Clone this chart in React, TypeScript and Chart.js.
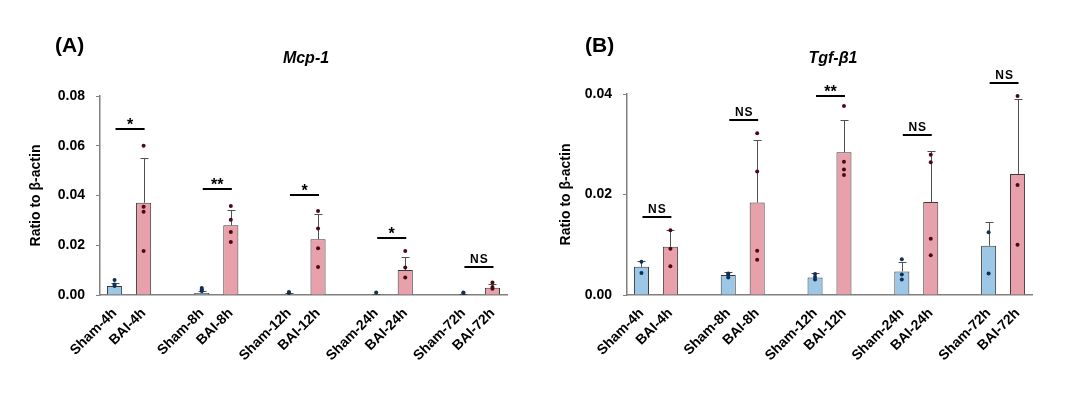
import React, { useEffect, useRef } from "react";
import { Chart, registerables } from "chart.js";
Chart.register(...registerables);

const FONT = "'Liberation Sans', Arial, sans-serif";

const timePoints = ["4h", "8h", "12h", "24h", "72h"];

// Panel A — Mcp-1
const mcpShamMean = [0.0036, 0.0008, 0.0004, 0.0003, 0.0003];
const mcpShamSD = [0.0012, 0.0009, 0.0004, 0.0003, 0.0003];
const mcpBaiMean = [0.0371, 0.028, 0.0224, 0.0101, 0.0029];
const mcpBaiSD = [0.0179, 0.006, 0.01, 0.0051, 0.0015];
const mcpShamDots = [
  [0.006, 0.0042, 0.0036],
  [0.0028, 0.0022, 0.0016],
  [0.0012, 0.0008],
  [0.001],
  [0.001, 0.0006],
];
const mcpBaiDots = [
  [0.06, 0.0355, 0.0335, 0.0177],
  [0.0358, 0.0303, 0.0253, 0.0213],
  [0.0338, 0.0267, 0.0188, 0.0113],
  [0.0177, 0.0111, 0.007],
  [0.005, 0.0032, 0.0025],
];
const mcpSigY = [0.0666, 0.0426, 0.0402, 0.0228, 0.0114];
const mcpSigLabel = ["*", "**", "*", "*", "NS"];

// Panel B — Tgf-β1
const tgfShamMean = [0.0056, 0.004, 0.0035, 0.0047, 0.0098];
const tgfShamSD = [0.0012, 0.0005, 0.0008, 0.0018, 0.0047];
const tgfBaiMean = [0.0096, 0.0184, 0.0284, 0.0185, 0.0241];
const tgfBaiSD = [0.0033, 0.0124, 0.0064, 0.0101, 0.0149];
const tgfShamDots = [
  [0.0066, 0.0044],
  [0.0043, 0.004, 0.0035],
  [0.0042, 0.0036, 0.0031],
  [0.0071, 0.0041, 0.0031],
  [0.0125, 0.0043],
];
const tgfBaiDots = [
  [0.0129, 0.0092, 0.0057],
  [0.0322, 0.0246, 0.0088, 0.007],
  [0.0376, 0.0265, 0.025, 0.0239],
  [0.0279, 0.0264, 0.0112, 0.0079],
  [0.0396, 0.0219, 0.01],
];
const tgfSigY = [0.0155, 0.0348, 0.0396, 0.0319, 0.0421];
const tgfSigLabel = ["NS", "NS", "**", "NS", "NS"];

const yTicksA = [0, 0.02, 0.04, 0.06, 0.08];
const yTicksB = [0, 0.02, 0.04];

const SHAM_FILL = "#9DC7E7";
const BAI_FILL = "#E8A0AA";
const SHAM_DOT = "#0F2F55";
const BAI_DOT = "#4A0A14";
const AXIS = "#808080";

type Panel = {
  letter: string;
  gene: string;
  shamMean: number[];
  shamSD: number[];
  baiMean: number[];
  baiSD: number[];
  shamDots: number[][];
  baiDots: number[][];
  sigY: number[];
  sigLabel: string[];
  yTicks: number[];
  layout: { top: number; right: number; yWidth: number; titlePad: number; letterX: number; geneX: number };
};

function buildLabels(): string[] {
  const labels: string[] = [];
  timePoints.forEach((t, i) => {
    labels.push("Sham-" + t, "BAI-" + t);
    if (i < timePoints.length - 1) labels.push(" ".repeat(i + 1));
  });
  return labels;
}

function makeChart(canvas: HTMLCanvasElement, p: Panel) {
  const labels = buildLabels();
  const barData: (number | null)[] = labels.map(() => null);
  const colors: string[] = labels.map(() => "rgba(0,0,0,0)");
  timePoints.forEach((t, i) => {
    barData[3 * i] = p.shamMean[i];
    barData[3 * i + 1] = p.baiMean[i];
    colors[3 * i] = SHAM_FILL;
    colors[3 * i + 1] = BAI_FILL;
  });
  const shamPts: { x: string; y: number }[] = [];
  const baiPts: { x: string; y: number }[] = [];
  timePoints.forEach((t, i) => {
    p.shamDots[i].forEach((v) => shamPts.push({ x: "Sham-" + t, y: v }));
    p.baiDots[i].forEach((v) => baiPts.push({ x: "BAI-" + t, y: v }));
  });
  const yMax = p.yTicks[p.yTicks.length - 1];

  const annot = {
    id: "annot" + p.letter,
    afterDatasetDraw(chart: any, args: any) {
      if (args.index !== 0) return;
      const ctx = chart.ctx;
      const xs = chart.scales.x;
      const ys = chart.scales.y;
      ctx.save();
      timePoints.forEach((t, i) => {
        const pairs: [number, number, number][] = [
          [3 * i, p.shamMean[i], p.shamSD[i]],
          [3 * i + 1, p.baiMean[i], p.baiSD[i]],
        ];
        pairs.forEach(([idx, m, sd]) => {
          const x = Math.round(xs.getPixelForValue(idx)) + 0.5;
          const y0 = ys.getPixelForValue(m);
          const y1 = Math.round(ys.getPixelForValue(m + sd)) + 0.5;
          ctx.strokeStyle = "#505050";
          ctx.lineWidth = 1;
          ctx.beginPath();
          ctx.moveTo(x, y0);
          ctx.lineTo(x, y1);
          ctx.moveTo(x - 4, y1);
          ctx.lineTo(x + 4, y1);
          ctx.stroke();
        });
      });
      ctx.restore();
    },
    afterDraw(chart: any) {
      const ctx = chart.ctx;
      const xs = chart.scales.x;
      const ys = chart.scales.y;
      ctx.save();
      ctx.fillStyle = "#000";
      ctx.strokeStyle = "#000";
      timePoints.forEach((t, i) => {
        const x1 = xs.getPixelForValue(3 * i);
        const x2 = xs.getPixelForValue(3 * i + 1);
        const y = Math.round(ys.getPixelForValue(p.sigY[i]));
        ctx.lineWidth = 2;
        ctx.beginPath();
        ctx.moveTo(x1 + 1, y);
        ctx.lineTo(x2 + 1, y);
        ctx.stroke();
        const lab = p.sigLabel[i];
        ctx.textAlign = "center";
        ctx.textBaseline = "alphabetic";
        if (lab === "NS") {
          ctx.font = `bold 12px ${FONT}`;
          ctx.fillText("N\u200AS", (x1 + x2) / 2 + 1, y - 4);
        } else {
          ctx.font = `bold 16px ${FONT}`;
          ctx.fillText(lab, (x1 + x2) / 2 + 1, y + 1);
        }
      });
      ctx.textAlign = "left";
      ctx.font = `bold 21px ${FONT}`;
      ctx.fillText(p.letter, p.layout.letterX, 52);
      ctx.textAlign = "center";
      ctx.font = `italic bold 16px ${FONT}`;
      ctx.fillText(p.gene, p.layout.geneX, 63);
      ctx.restore();
    },
  };

  return new Chart(canvas, {
    type: "bar",
    data: {
      labels,
      datasets: [
        {
          type: "bar",
          data: barData,
          backgroundColor: colors,
          borderColor: "#3A3A3A",
          borderWidth: 1,
          barPercentage: 0.52,
          categoryPercentage: 1,
          order: 2,
        } as any,
        {
          type: "scatter",
          data: shamPts,
          pointRadius: 2,
          pointBackgroundColor: SHAM_DOT,
          pointBorderWidth: 0,
          order: 1,
        } as any,
        {
          type: "scatter",
          data: baiPts,
          pointRadius: 2,
          pointBackgroundColor: BAI_DOT,
          pointBorderWidth: 0,
          order: 1,
        } as any,
      ],
    },
    options: {
      responsive: false,
      animation: false,
      devicePixelRatio: 1,
      layout: { padding: { top: p.layout.top, right: p.layout.right, left: 0, bottom: 0 } },
      plugins: { legend: { display: false }, tooltip: { enabled: false }, title: { display: false } },
      scales: {
        x: {
          type: "category",
          offset: true,
          grid: { display: false },
          border: { display: true, color: AXIS, width: 1.5 },
          ticks: {
            autoSkip: false,
            maxRotation: 45,
            minRotation: 45,
            color: "#000",
            padding: 2,
            font: { family: FONT, size: 14, weight: "bold" },
          },
          afterFit: (s: any) => {
            s.height = 399 - 295;
          },
        },
        y: {
          type: "linear",
          min: 0,
          max: yMax,
          afterBuildTicks: (s: any) => {
            s.ticks = p.yTicks.map((v) => ({ value: v }));
          },
          ticks: {
            color: "#000",
            padding: 11,
            font: { family: FONT, size: 14, weight: "bold" },
            callback: (v: any) => Number(v).toFixed(2),
          },
          grid: { drawOnChartArea: false, drawTicks: true, tickLength: 4, color: AXIS, lineWidth: 1 },
          border: { display: true, color: AXIS, width: 1.5 },
          title: {
            display: true,
            text: "Ratio to β-actin",
            color: "#000",
            font: { family: FONT, size: 14, weight: "bold" },
            padding: { top: p.layout.titlePad, bottom: 0 },
          },
          afterFit: (s: any) => {
            s.width = p.layout.yWidth;
          },
        },
      },
    } as any,
    plugins: [annot as any],
  });
}

const panelA: Panel = {
  letter: "(A)",
  gene: "Mcp-1",
  shamMean: mcpShamMean,
  shamSD: mcpShamSD,
  baiMean: mcpBaiMean,
  baiSD: mcpBaiSD,
  shamDots: mcpShamDots,
  baiDots: mcpBaiDots,
  sigY: mcpSigY,
  sigLabel: mcpSigLabel,
  yTicks: yTicksA,
  layout: { top: 96, right: 33, yWidth: 100, titlePad: 28, letterX: 55, geneX: 306 },
};

const panelB: Panel = {
  letter: "(B)",
  gene: "Tgf-β1",
  shamMean: tgfShamMean,
  shamSD: tgfShamSD,
  baiMean: tgfBaiMean,
  baiSD: tgfBaiSD,
  shamDots: tgfShamDots,
  baiDots: tgfBaiDots,
  sigY: tgfSigY,
  sigLabel: tgfSigLabel,
  yTicks: yTicksB,
  layout: { top: 94, right: 48, yWidth: 87, titlePad: 18, letterX: 45, geneX: 293 },
};

function PanelChart({ panel, left }: { panel: Panel; left: number }) {
  const ref = useRef<HTMLCanvasElement | null>(null);
  useEffect(() => {
    if (!ref.current) return;
    const c = makeChart(ref.current, panel);
    return () => c.destroy();
  }, [panel]);
  return (
    <canvas
      ref={ref}
      width={540}
      height={399}
      style={{ position: "absolute", left, top: 0, width: 540, height: 399, display: "block" }}
    />
  );
}

export default function App() {
  return (
    <div style={{ position: "absolute", left: 0, top: 0, width: 1080, height: 399, background: "#fff" }}>
      <PanelChart panel={panelA} left={0} />
      <PanelChart panel={panelB} left={540} />
    </div>
  );
}
